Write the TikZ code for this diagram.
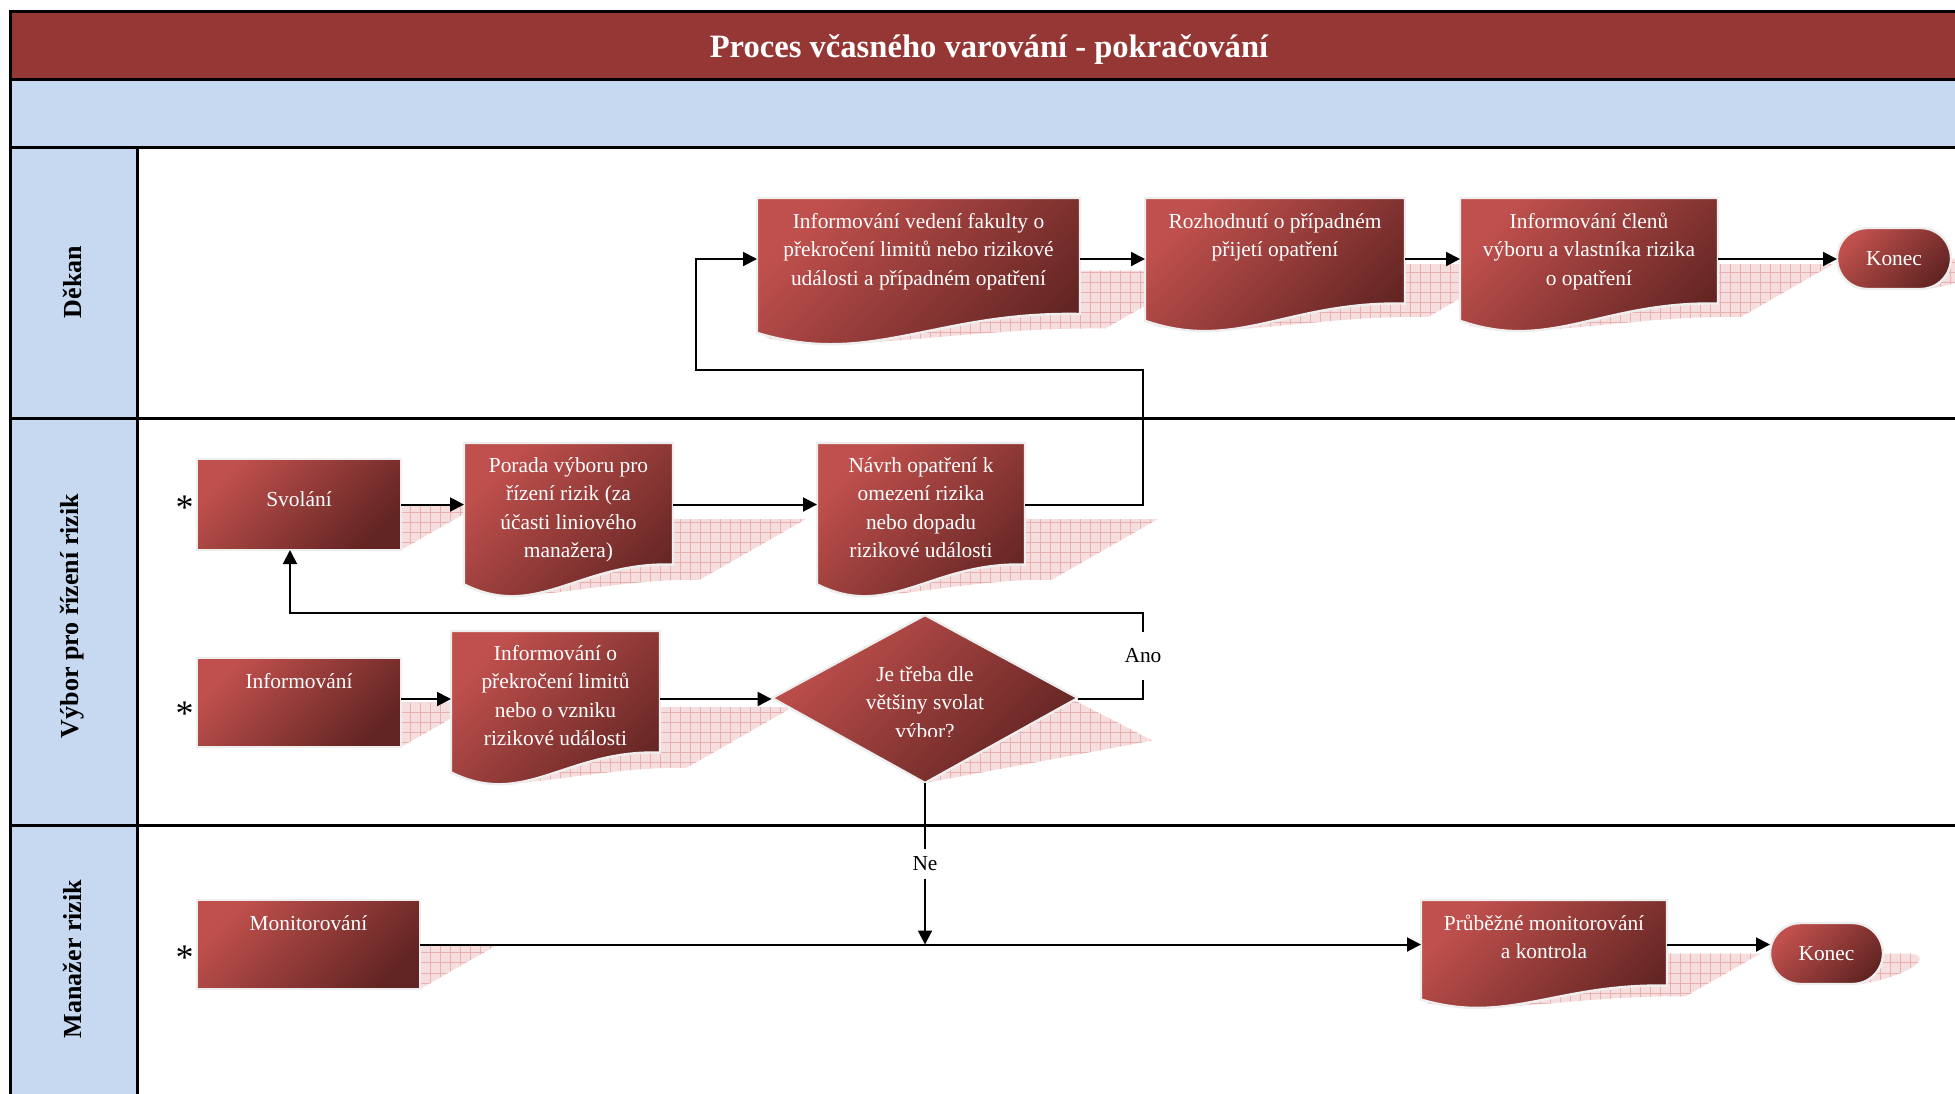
\documentclass[tikz,border=0pt]{standalone}
\usepackage{fontspec}
\setmainfont{Liberation Serif}
\usetikzlibrary{arrows.meta,patterns,shapes.geometric}
\pgfdeclarelayer{back}
\pgfdeclarelayer{shapes}
\pgfsetlayers{back,shapes,main}
\pgfdeclarepatternformonly{shgrid}{\pgfqpoint{-1pt}{-1pt}}{\pgfqpoint{6pt}{6pt}}{\pgfqpoint{5pt}{5pt}}{%
  \pgfsetlinewidth{0.5pt}%
  \pgfpathmoveto{\pgfqpoint{0pt}{0pt}}\pgfpathlineto{\pgfqpoint{5.1pt}{0pt}}%
  \pgfpathmoveto{\pgfqpoint{0pt}{0pt}}\pgfpathlineto{\pgfqpoint{0pt}{5.1pt}}%
  \pgfusepath{stroke}}
\definecolor{titlered}{HTML}{953735}
\definecolor{laneblue}{HTML}{C6D9F1}
\definecolor{shtop}{HTML}{C0504D}
\definecolor{shbot}{HTML}{632523}
\definecolor{shborder}{HTML}{EEEEEE}
\definecolor{shfill}{RGB}{247,222,222}
\definecolor{shline}{RGB}{232,176,176}
\tikzset{
  shadowst/.style={preaction={fill=shfill}, pattern=shgrid, pattern color=shline},
  castfrom/.style={cm={1,0,0.875,0.5,({0.4375*#1pt},{-0.25*#1pt})}},
  shapest/.style={draw=shborder, line width=1.2pt, top color=shtop, bottom color=shbot, shading angle=45},
  txt/.style={inner sep=0pt, outer sep=0pt, text=white, font=\fontsize{10.7}{14.25}\selectfont},
  arr/.style={line width=1pt, -{Triangle[length=7pt,width=7pt]}},
  lbl/.style={fill=white, inner xsep=1pt, font=\fontsize{10.7}{13}\selectfont},
  laneline/.style={line width=1.5pt, black},
  lanetxt/.style={font=\bfseries\fontsize{13}{15}\selectfont, rotate=90, inner sep=0pt},
  astst/.style={font=\fontsize{18}{18}\selectfont, anchor=base, inner sep=0pt},
}
\newcommand\docpath[4]{(#1,#2) -- (#3,#2) -- (#3,{#4-0.2*(#4-#2)}) .. controls ({#1+0.55*(#3-#1)},{#4-0.22*(#4-#2)}) and ({#1+0.35*(#3-#1)},{#4+0.17*(#4-#2)}) .. (#1,{#4-0.07*(#4-#2)}) -- cycle}
\newcommand\recpath[4]{(#1,#2) rectangle (#3,#4)}
\newcommand\stadpath[4]{(#1+\sr,#2) -- (#3-\sr,#2) .. controls (#3-\sr+\sk,#2) and (#3,\sym-\sk) .. (#3,\sym) .. controls (#3,\sym+\sk) and (#3-\sr+\sk,#4) .. (#3-\sr,#4) -- (#1+\sr,#4) .. controls (#1+\sr-\sk,#4) and (#1,\sym+\sk) .. (#1,\sym) .. controls (#1,\sym-\sk) and (#1+\sr-\sk,#2) .. (#1+\sr,#2) -- cycle}
\newcommand\placebox[7]{\node[txt, anchor=north west] (#1) at (#2,#3) {\parbox[t][\dimexpr(#5pt-#3pt)/2\relax][t]{\dimexpr(#4pt-#2pt)/2\relax}{\centering\rule{0pt}{#6pt}#7\par}};}
\newcommand\docnode[7]{%
  \begin{pgfonlayer}{back}\path[shadowst,castfrom=#5] \docpath{#2}{#3}{#4}{#5};\end{pgfonlayer}%
  \begin{pgfonlayer}{shapes}\path[shapest] \docpath{#2}{#3}{#4}{#5};\end{pgfonlayer}%
  \placebox{#1}{#2}{#3}{#4}{#5}{#6}{#7}}
\newcommand\recnode[7]{%
  \begin{pgfonlayer}{back}\path[shadowst,castfrom=#5] \recpath{#2}{#3}{#4}{#5};\end{pgfonlayer}%
  \begin{pgfonlayer}{shapes}\path[shapest] \recpath{#2}{#3}{#4}{#5};\end{pgfonlayer}%
  \placebox{#1}{#2}{#3}{#4}{#5}{#6}{#7}}
\newcommand\stadnode[6]{%
  \pgfmathsetmacro\sr{(#5-#3)/2}\pgfmathsetmacro\sk{0.5523*\sr}\pgfmathsetmacro\sym{(#3+#5)/2}%
  \begin{pgfonlayer}{back}\path[shadowst,castfrom=#5] \stadpath{#2}{#3}{#4}{#5};\end{pgfonlayer}%
  \begin{pgfonlayer}{shapes}\path[shapest] \stadpath{#2}{#3}{#4}{#5};\end{pgfonlayer}%
  \node[txt, minimum width={(#4-#2)*0.5pt}, minimum height={(#5-#3)*0.5pt}] (#1) at ({(#2+#4)/2},\sym) {#6};}
\begin{document}
\begin{tikzpicture}[x=0.5pt,y=-0.5pt]
\useasboundingbox (0,0) rectangle (1955,1093);
% lanes
\begin{pgfonlayer}{back}
\fill[titlered] (10,11) rectangle (1962,79);
\fill[laneblue] (10,79) rectangle (1962,147);
\fill[laneblue] (10,147) rectangle (137,1100);
\draw[laneline] (1962,11) -- (10,11) -- (10,1100);
\draw[laneline] (10,79) -- (1962,79);
\draw[laneline] (10,147) -- (1962,147);
\draw[laneline] (137,147) -- (137,1100);
\draw[laneline] (10,418) -- (1962,418);
\draw[laneline] (10,825) -- (1962,825);
\end{pgfonlayer}
\node[text=white, font=\bfseries\fontsize{16.3}{19}\selectfont] (title) at (989,49) {Proces včasného varování - pokračování};
\node[lanetxt] (lane1) at (72,282) {Děkan};
\node[lanetxt] (lane2) at (72,616) {Výbor pro řízení rizik};
\node[lanetxt] (lane3) at (72,959) {Manažer rizik};
% nodes
\docnode{infoved}{757}{198}{1080}{343}{15}{Informování vedení fakulty o\\překročení limitů nebo rizikové\\události a případném opatření}
\docnode{rozhod}{1145}{198}{1405}{330}{15}{Rozhodnutí o případném\\přijetí opatření}
\docnode{infoclen}{1460}{198}{1718}{330}{15}{Informování členů\\výboru a vlastníka rizika\\o opatření}
\stadnode{konec1}{1837}{228}{1951}{289}{Konec}
\recnode{svol}{197}{459}{401}{550}{23.5}{Svolání}
\docnode{porada}{464}{443}{673}{595}{14.5}{Porada výboru pro\\řízení rizik (za\\účasti liniového\\manažera)}
\docnode{navrh}{817}{443}{1025}{595}{14.5}{Návrh opatření k\\omezení rizika\\nebo dopadu\\rizikové události}
\recnode{inform}{197}{658}{401}{747}{15}{Informování}
\docnode{infoprek}{451}{631}{660}{783}{14.5}{Informování o\\překročení limitů\\nebo o vzniku\\rizikové události}
\begin{pgfonlayer}{back}\path[shadowst,castfrom=783] (925,615) -- (1078,698) -- (925,783) -- (772,698) -- cycle;\end{pgfonlayer}
\begin{pgfonlayer}{shapes}\path[shapest] (925,615) -- (1078,698) -- (925,783) -- (772,698) -- cycle;\end{pgfonlayer}
\node[diamond, minimum width=153pt, minimum height=84pt, inner sep=0pt] (dec) at (925,699) {};
\begin{scope}
\clip (772,600) rectangle (1078,736);
\node[txt, anchor=north] (dectext) at (925,651) {\parbox{120pt}{\centering\rule{0pt}{15pt}Je třeba dle\\většiny svolat\\výbor?\par}};
\end{scope}
\recnode{monit}{197}{900}{420}{989}{15}{Monitorování}
\docnode{prub}{1421}{900}{1667}{1007}{15}{Průběžné monitorování\\a kontrola}
\stadnode{konec2}{1770}{923}{1883}{984}{Konec}
% asterisks
\node[astst] (ast1) at (184.5,519) {*};
\node[astst] (ast2) at (184.5,725) {*};
\node[astst] (ast3) at (184.5,969) {*};
% connectors
\coordinate (row1) at (0,259);
\draw[arr] (infoved.east |- row1) -- (rozhod.west |- row1);
\draw[arr] (rozhod.east |- row1) -- (infoclen.west |- row1);
\draw[arr] (infoclen.east |- row1) -- (konec1.west |- row1);
\draw[arr] (svol.east) -- (svol.east -| porada.west);
\draw[arr] (svol.east -| porada.east) -- (svol.east -| navrh.west);
\coordinate (loopr) at (1143,370);
\coordinate (loopl) at (696,370);
\draw[arr] (svol.east -| navrh.east) -- (svol.east -| loopr) -- (loopr) -- (loopl) -- (loopl |- row1) -- (infoved.west |- row1);
\draw[arr] (inform.east |- dec.west) -- (infoprek.west |- dec.west);
\draw[arr] (infoprek.east |- dec.west) -- (dec.west);
\coordinate (anoc) at (1143,613);
\coordinate (svx) at (290,613);
\draw[arr] (dec.east) -- (dec.east -| anoc) -- node[lbl, inner ysep=8.5pt] (ano) {Ano} (anoc) -- (svx) -- (svx |- svol.south);
\draw[arr] (dec.south) -- node[lbl, inner ysep=4pt] (ne) {Ne} (dec.south |- monit.east);
\draw[arr] (monit.east) -- (monit.east -| prub.west);
\draw[arr] (monit.east -| prub.east) -- (monit.east -| konec2.west);
\end{tikzpicture}
\end{document}
